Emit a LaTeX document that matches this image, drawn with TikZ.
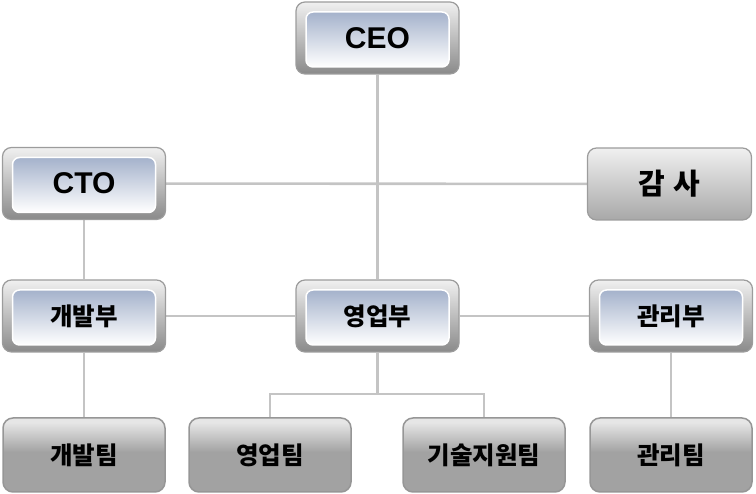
\documentclass[tikz,border=0pt]{standalone}
\usepackage{fontspec}
\setmainfont{Liberation Sans}
\newfontfamily\kr{Noto Sans CJK KR}
\usetikzlibrary{backgrounds}
\definecolor{linec}{HTML}{C4C4C4}
\definecolor{frameTop}{HTML}{F0F0F0}
\definecolor{frameBot}{HTML}{8A8A8A}
\definecolor{frameDraw}{HTML}{9C9C9C}
\definecolor{innerBlue}{HTML}{94A4C2}
\definecolor{teamLight}{HTML}{E6E6E6}
\definecolor{teamDark}{HTML}{A2A2A2}
\definecolor{teamDraw}{HTML}{969696}
\definecolor{silTop}{HTML}{F0F0F0}
\definecolor{silBot}{HTML}{A8A8A8}
\pgfdeclareverticalshading{innershade}{100bp}{color(0bp)=(white); color(30bp)=(white); color(75bp)=(innerBlue); color(100bp)=(innerBlue)}
\pgfdeclareverticalshading{teamshade}{100bp}{color(0bp)=(teamDark); color(25bp)=(teamDark); color(52bp)=(teamDark); color(72bp)=(teamLight); color(100bp)=(teamLight)}
\pgfdeclareverticalshading{silshade}{100bp}{color(0bp)=(silBot); color(25bp)=(silBot); color(75bp)=(silTop); color(100bp)=(silTop)}
\tikzset{
  conn/.style={draw=linec, line width=2.6pt},
  bluebox/.style={rounded corners=9pt, minimum width=163pt, minimum height=72pt,
    inner sep=0pt, draw=frameDraw, line width=1.2pt, top color=frameTop, bottom color=frameBot,
    path picture={\shade[shading=innershade, rounded corners=7pt]
      ([shift={(10pt,7pt)}]path picture bounding box.south west) rectangle
      ([shift={(-10pt,-10pt)}]path picture bounding box.north east);
      \draw[white, line width=1.5pt, rounded corners=7pt]
      ([shift={(10pt,7pt)}]path picture bounding box.south west) rectangle
      ([shift={(-10pt,-10pt)}]path picture bounding box.north east);}},
  latin/.style={font=\bfseries\fontsize{30}{32}\selectfont},
  korean/.style={font=\kr\bfseries\fontsize{24.5}{26}\selectfont},
  silverbox/.style={rounded corners=9pt, minimum width=164pt, minimum height=72pt,
    inner sep=0pt, draw=frameDraw, line width=1.2pt, shading=silshade,
    font=\kr\bfseries\fontsize{29}{31}\selectfont},
  teambox/.style={rounded corners=10pt, minimum width=162pt, minimum height=74pt,
    inner sep=0pt, draw=teamDraw, line width=1.5pt, shading=teamshade,
    font=\kr\bfseries\fontsize{24.5}{26}\selectfont},
}
\begin{document}
\begin{tikzpicture}[x=1pt,y=1pt]
\useasboundingbox (0,0) rectangle (756,494);
% top row
\node[bluebox, latin] (ceo) at (377.5,456) {CEO};
\node[bluebox, latin] (cto) at (84,310.5) {CTO};
\node[silverbox] (audit) at (669.5,310) {감\hspace{9pt}사};
% middle row
\node[bluebox, korean] (dev) at (84,178) {개발부};
\node[bluebox, korean] (sales) at (377.5,178) {영업부};
\node[bluebox, korean] (mgmt) at (671,178) {관리부};
% teams
\node[teambox] (devteam) at (84,39) {개발팀};
\node[teambox] (salesteam) at (270,39) {영업팀};
\node[teambox] (techteam) at (484,39) {기술지원팀};
\node[teambox] (mgmtteam) at (671,39) {관리팀};
\coordinate (br) at (377.5,100);
\begin{scope}[on background layer]
\draw[conn] (ceo) -- (sales);
\draw[conn] (cto) -- (audit);
\draw[conn] (cto) -- (dev);
\draw[conn] (dev) -- (sales) -- (mgmt);
\draw[conn] (dev) -- (devteam);
\draw[conn] (mgmt) -- (mgmtteam);
\draw[conn] (sales) -- (br);
\draw[conn] (salesteam) |- (br);
\draw[conn] (techteam) |- (br);
\end{scope}
\end{tikzpicture}
\end{document}
